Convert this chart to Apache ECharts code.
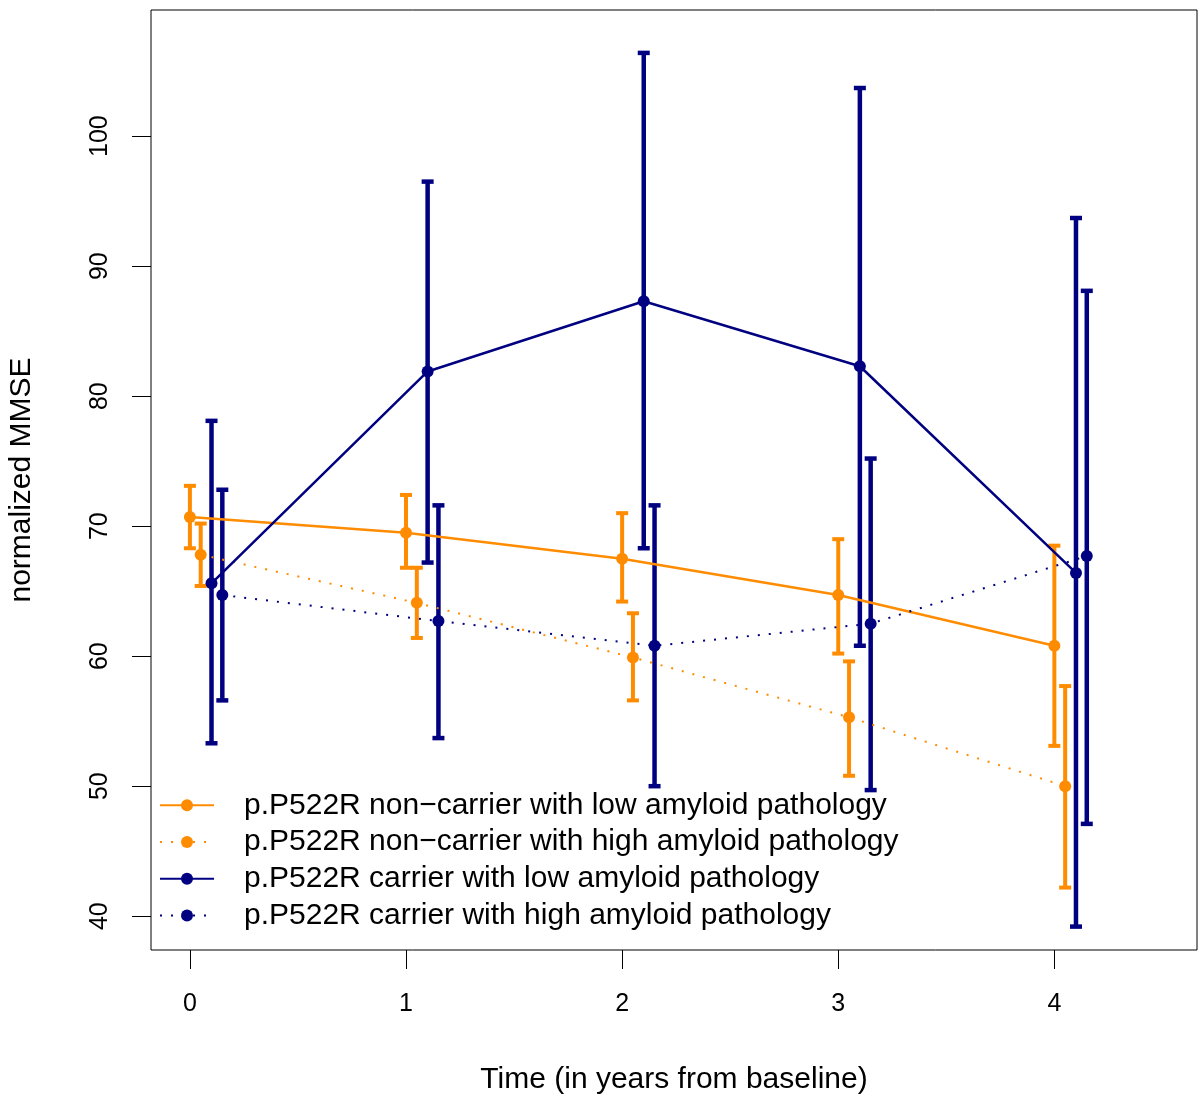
<!DOCTYPE html>
<html>
<head>
<meta charset="utf-8">
<title>normalized MMSE over time</title>
<script src="https://cdn.jsdelivr.net/npm/echarts@6/dist/echarts.min.js"></script>
<style>
  html, body { margin: 0; padding: 0; background: #fff; }
  #main { width: 1198px; height: 1097px; }
</style>
</head>
<body>
<div id="main"></div>
<script>
// time points and per-group horizontal jitter
var times = [0, 1, 2, 3, 4];
var offsets = [0, 0.05, 0.1, 0.15];
var xTicks = [0, 1, 2, 3, 4];
var yTicks = [40, 50, 60, 70, 80, 90, 100];

var groupNames = [
  'p.P522R non\u2212carrier with low amyloid pathology',
  'p.P522R non\u2212carrier with high amyloid pathology',
  'p.P522R carrier with low amyloid pathology',
  'p.P522R carrier with high amyloid pathology'
];

// means
var nonLowMean  = [70.7, 69.5, 67.5, 64.7, 60.8];
var nonHighMean = [67.8, 64.1, 59.9, 55.3, 50.0];
var carLowMean  = [65.6, 81.9, 87.3, 82.3, 66.4];
var carHighMean = [64.7, 62.7, 60.8, 62.5, 67.7];

// lower / upper ends of the error bars
var nonLowLo  = [68.3, 66.8, 64.2, 60.2, 53.1];
var nonLowHi  = [73.1, 72.4, 71.0, 69.0, 68.5];
var nonHighLo = [65.4, 61.4, 56.6, 50.8, 42.2];
var nonHighHi = [70.2, 66.8, 63.3, 59.6, 57.7];
var carLowLo  = [53.3, 67.2, 68.3, 60.8, 39.2];
var carLowHi  = [78.1, 96.5, 106.4, 103.7, 93.7];
var carHighLo = [56.6, 53.7, 50.0, 49.7, 47.1];
var carHighHi = [72.8, 71.6, 71.6, 75.2, 88.1];

var means = [nonLowMean, nonHighMean, carLowMean, carHighMean];
var lows  = [nonLowLo, nonHighLo, carLowLo, carHighLo];
var highs = [nonLowHi, nonHighHi, carLowHi, carHighHi];

var colors = ['#FF8C00', '#FF8C00', '#000080', '#000080'];
var dotted = [false, true, false, true];
var barWidths = [4, 4, 4.5, 4.5];

var font = '"Liberation Sans", Arial, Helvetica, sans-serif';

function errorBars(lineW) {
  return function (params, api) {
    var x = api.value(0);
    var p0 = api.coord([x, api.value(1)]);
    var p1 = api.coord([x, api.value(2)]);
    var w = 6;
    var st = { stroke: api.visual('color'), lineWidth: lineW };
    return {
      type: 'group',
      children: [
        { type: 'line', shape: { x1: p0[0], y1: p0[1], x2: p1[0], y2: p1[1] }, style: st },
        { type: 'line', shape: { x1: p0[0] - w, y1: p0[1], x2: p0[0] + w, y2: p0[1] }, style: st },
        { type: 'line', shape: { x1: p1[0] - w, y1: p1[1], x2: p1[0] + w, y2: p1[1] }, style: st }
      ]
    };
  };
}

var series = [];
for (var g = 0; g < 4; g++) {
  var pts = times.map(function (t, i) { return [t + offsets[g], means[g][i]]; });
  var bars = times.map(function (t, i) { return [t + offsets[g], lows[g][i], highs[g][i]]; });
  series.push({
    name: groupNames[g],
    type: 'line',
    data: pts,
    symbol: 'circle',
    symbolSize: 12,
    color: colors[g],
    itemStyle: { color: colors[g] },
    lineStyle: dotted[g]
      ? { color: colors[g], width: 2, type: [2, 9] }
      : { color: colors[g], width: 2.5, type: 'solid' },
    emphasis: { disabled: true },
    silent: true
  });
  series.push({
    name: groupNames[g],
    type: 'custom',
    data: bars,
    encode: { x: 0, y: [1, 2] },
    itemStyle: { color: colors[g] },
    renderItem: errorBars(barWidths[g]),
    silent: true
  });
}

var chart = echarts.init(document.getElementById('main'));
chart.setOption({
  animation: false,
  backgroundColor: '#ffffff',
  grid: {
    left: 151, right: 1, top: 10, bottom: 147,
    outerBoundsMode: 'none',
    containLabel: false,
    show: true, borderColor: '#000', borderWidth: 1, backgroundColor: 'transparent'
  },
  legend: {
    data: groupNames,
    orient: 'vertical',
    left: 159,
    top: 787,
    padding: 0,
    itemWidth: 54,
    itemHeight: 15,
    itemGap: 0,
    selectedMode: false,
    textStyle: { fontFamily: font, fontSize: 30, color: '#000', lineHeight: 36.7, padding: [0, 0, 0, 25] }
  },
  xAxis: {
    type: 'value',
    min: -0.18,
    max: 4.66,
    name: 'Time (in years from baseline)',
    nameLocation: 'middle',
    nameGap: 115,
    nameTextStyle: { fontFamily: font, fontSize: 30, color: '#000' },
    axisLine: { show: false, onZero: false },
    axisTick: { show: true, length: 19, customValues: xTicks, lineStyle: { color: '#000' } },
    axisLabel: { customValues: xTicks, margin: 42, fontFamily: font, fontSize: 25, color: '#000' },
    splitLine: { show: false }
  },
  yAxis: {
    type: 'value',
    min: 37.4,
    max: 109.7,
    name: 'normalized MMSE',
    nameLocation: 'middle',
    nameGap: 114,
    nameTextStyle: { fontFamily: font, fontSize: 30, color: '#000' },
    axisLine: { show: false, onZero: false },
    axisTick: { show: true, length: 19, customValues: yTicks, lineStyle: { color: '#000' } },
    axisLabel: { customValues: yTicks, rotate: 90, margin: 38, fontFamily: font, fontSize: 25, color: '#000' },
    splitLine: { show: false }
  },
  series: series
});
</script>
</body>
</html>
